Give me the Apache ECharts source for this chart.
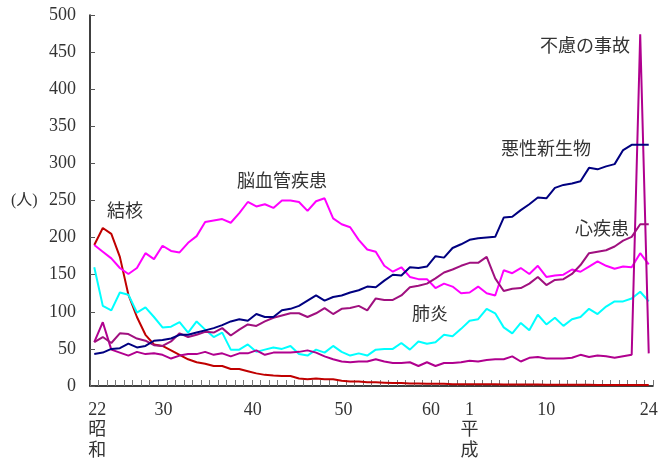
<!DOCTYPE html>
<html>
<head>
<meta charset="utf-8">
<script src="https://cdn.jsdelivr.net/npm/echarts@6/dist/echarts.min.js"></script>
<style>
html,body{margin:0;padding:0;background:#fff;}
#chart{width:670px;height:463px;}
</style>
</head>
<body>
<div id="chart"></div>
<script>
// Categories: Showa 22..63, Heisei 1..24
var showaYears = [22,23,24,25,26,27,28,29,30,31,32,33,34,35,36,37,38,39,40,41,42,43,44,45,46,47,48,49,50,51,52,53,54,55,56,57,58,59,60,61,62,63];
var heiseiYears = [1,2,3,4,5,6,7,8,9,10,11,12,13,14,15,16,17,18,19,20,21,22,23,24];
var categories = showaYears.map(function(y){return 'S' + y;}).concat(heiseiYears.map(function(y){return 'H' + y;}));

// Tick labels shown on the x axis
var tickLabels = {
  'S22': '22\n昭\n和', 'S30': '30', 'S40': '40', 'S50': '50', 'S60': '60',
  'H1': '1\n平\n成', 'H10': '10', 'H24': '24'
};

// Series values (deaths per 100,000)
var tuberculosis = [190,213,205,174,123,93,69,56,54,48,42,36,32,30,27,27,23,23,20,17,15,14,13.5,13.5,10,9,10,9,9,7,6,6,5,5,4.5,4,4,3.5,3.5,3,3,3,2.5,2.5,2.5,2.5,2.3,2.2,2,2,2,2,2,1.8,1.8,1.8,1.7,1.7,1.6,1.5,1.5,1.5,1.4,1.5,1.3,1.3];
var cerebrovascular = [190,181,172,159,151,159,179,171,189,182,180,193,202,221,223,225,220,233,248,242,245,240,250,250,248,236,249,253,226,218,214,197,184,181,162,154,160,147,144,144,132,138,134,125,126,134,125,122,156,152,159,151,162,147,149,150,157,154,161,168,162,158,161,160,179,164];
var malignant = [43,45,50,51,57,52,54,61,62,64,69,69,72,75,78,82,87,90,88,97,93,93,102,104,108,115,122,115,120,122,126,129,134,133,142,150,149,160,159,161,175,173,186,191,197,199,200,201,227,228,237,245,254,253,267,271,273,276,294,292,296,299,318,325,325,325];
var heart = [59,66,58,71,70,64,61,55,54,60,71,66,69,73,72,78,68,76,83,81,87,92,95,98,98,93,98,105,97,104,105,108,102,118,116,116,122,133,135,138,145,153,157,162,166,166,174,145,128,131,132,138,147,136,143,144,151,163,179,181,183,188,196,201,218,218];
var pneumonia = [160,108,102,126,123,99,106,93,79,80,86,72,87,76,66,72,49,49,56,46,49,52,50,54,43,41,49,45,54,46,41,44,41,49,50,50,58,49,60,57,59,69,67,77,88,90,104,98,79,71,85,75,96,83,92,81,90,93,104,97,107,114,114,118,127,114];
var accident = [59,86,49,45,41,46,43,44,42,37,41,43,43,46,42,44,40,44,44,48,42,45,45,45,46,48,45,40,36,33,32,33,33,36,33,31,31,32,27,32,27,31,31,32,34,33,35,36,36,40,33,38,39,37,37,37,38,42,39,41,40,38,40,42,474,44];

var seriesDefs = [
  {name:'結核', data:tuberculosis, color:'#C00000'},
  {name:'脳血管疾患', data:cerebrovascular, color:'#FF00FF'},
  {name:'肺炎', data:pneumonia, color:'#00FFFF'},
  {name:'不慮の事故', data:accident, color:'#B0008E'},
  {name:'心疾患', data:heart, color:'#A0107F'},
  {name:'悪性新生物', data:malignant, color:'#000080'}
];

var annotations = [
  {text:'結核', x:125, y:210},
  {text:'脳血管疾患', x:282, y:180},
  {text:'悪性新生物', x:546, y:148},
  {text:'心疾患', x:602, y:228},
  {text:'肺炎', x:430, y:313},
  {text:'不慮の事故', x:585, y:45}
];

var serifFont = '"Liberation Serif", "DejaVu Serif", "Noto Sans CJK JP", serif';
var cjkFont = '"Noto Sans CJK JP", sans-serif';

// label nudges (left padding, px) so tick labels sit where the original placed them
var labelPad = {'S22': 6, 'S30': 2, 'S40': 10, 'S50': 21, 'S60': 25, 'H1': 34, 'H10': 34, 'H24': 0};
var richStyles = {};
Object.keys(labelPad).forEach(function(k){
  var p = labelPad[k];
  richStyles['p' + p] = {padding: [0, 0, 0, p], fontSize: 18, fontFamily: serifFont, color: '#333', lineHeight: 20.5};
});

var chart = echarts.init(document.getElementById('chart'), null, {renderer:'canvas'});
chart.setOption({
  animation: false,
  backgroundColor: '#fff',
  grid: {left: 90, right: 17, top: 15, bottom: 77, containLabel: false, outerBoundsMode: 'none'},
  xAxis: {
    type: 'category',
    data: categories,
    boundaryGap: true,
    axisLine: {show: true, lineStyle: {color: '#000', width: 1.5}},
    axisTick: {show: true, inside: true, length: 6, interval: 0, lineStyle: {color: '#777'}},
    axisLabel: {
      interval: function(idx, val){ return tickLabels[val] !== undefined; },
      formatter: function(val){
        var t = tickLabels[val];
        if (!t) return '';
        var p = labelPad[val];
        return t.split('\n').map(function(line){ return '{p' + p + '|' + line + '}'; }).join('\n');
      },
      rich: richStyles,
      color: '#333',
      fontSize: 18,
      fontFamily: serifFont,
      lineHeight: 20.5,
      margin: 14
    },
    splitLine: {show: false}
  },
  yAxis: {
    type: 'value',
    min: 0, max: 500, interval: 50,
    axisLine: {show: true, lineStyle: {color: '#000', width: 1.5}},
    axisTick: {show: true, inside: true, length: 5, lineStyle: {color: '#555'}},
    axisLabel: {color: '#333', fontSize: 18, fontFamily: serifFont, margin: 14},
    splitLine: {show: false}
  },
  graphic: [
    {type:'text', left: 11, top: 193, style:{text:'(人)', fontSize:16, fontFamily: serifFont, fill:'#333'}}
  ].concat(annotations.map(function(a){
    return {type:'text', x:a.x, y:a.y, style:{text:a.text, fontSize:18, fontFamily: cjkFont, fill:'#333', align:'center', verticalAlign:'middle'}};
  })),
  series: seriesDefs.map(function(s){
    return {
      name: s.name, type: 'line', data: s.data,
      symbol: 'none', smooth: false,
      lineStyle: {color: s.color, width: 2},
      itemStyle: {color: s.color}
    };
  })
});
</script>
</body>
</html>
